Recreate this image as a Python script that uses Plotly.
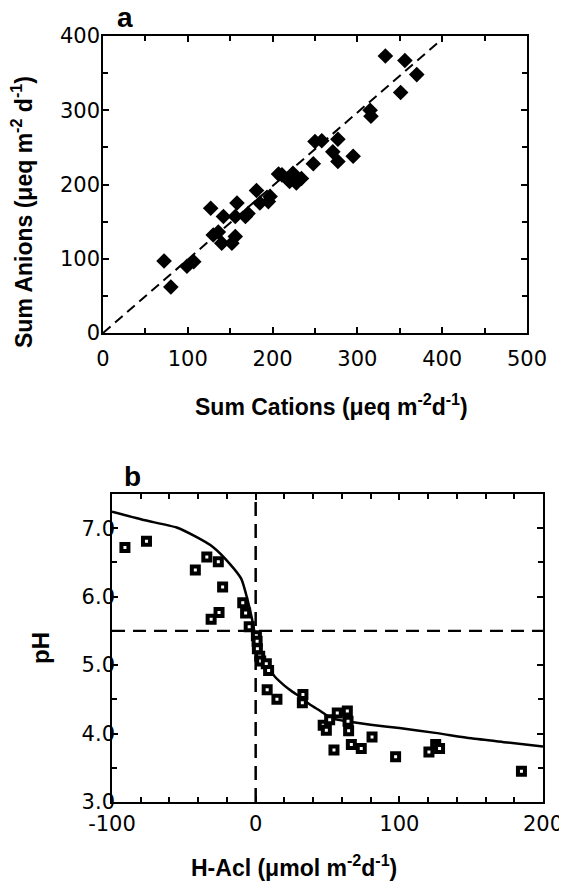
import plotly.graph_objects as go

# ---------------- Panel a data ----------------
sum_cations = [72, 80, 99, 107, 127, 130, 136, 142, 140, 152, 156, 156, 158, 168, 171,
               181, 185, 195, 197, 207, 211, 220, 224, 228, 234, 248, 250, 258, 271,
               277, 277, 295, 315, 316, 333, 351, 356, 370]
sum_anions = [97, 62, 90, 96, 168, 132, 136, 157, 121, 121, 130, 157, 175, 157, 161,
              192, 175, 177, 184, 214, 213, 204, 215, 202, 208, 228, 258, 259, 244,
              261, 231, 238, 300, 292, 373, 324, 367, 348]
one_to_one_x = [0, 400]
one_to_one_y = [0, 396]
a_xticks = [0, 100, 200, 300, 400, 500]
a_yticks = [0, 100, 200, 300, 400]

# ---------------- Panel b data ----------------
h_acl = [-91, -76, -42, -34, -26, -31, -25.5, -23, -9, -7, -4.5, 0.5, 1, 1.2, 2.8, 3.5,
         7.4, 9, 8, 14.8, 32.9, 32.5, 47, 49.2, 51.5, 56.8, 63.8, 64.3, 64.7, 54.5,
         66.6, 73.5, 81, 97.4, 120.6, 125.3, 128, 185]
ph_obs = [6.72, 6.81, 6.39, 6.58, 6.51, 5.67, 5.77, 6.14, 5.91, 5.76, 5.56, 5.43, 5.35,
          5.24, 5.13, 5.06, 5.02, 4.92, 4.64, 4.50, 4.57, 4.45, 4.12, 4.05, 4.20, 4.30,
          4.33, 4.18, 4.04, 3.76, 3.84, 3.78, 3.95, 3.66, 3.73, 3.84, 3.78, 3.45]
curve_x = [-100, -78, -55, -42, -30, -18, -10, -5.5, -2.5, -1, 0, 2.5, 7.5, 13, 20, 25,
           32, 38, 45, 52, 63, 80, 100, 125, 150, 175, 200]
curve_ph = [7.24, 7.12, 7.01, 6.88, 6.73, 6.48, 6.26, 5.94, 5.67, 5.50, 5.36, 5.21, 5.01,
            4.84, 4.70, 4.62, 4.52, 4.42, 4.33, 4.23, 4.18, 4.13, 4.08, 4.01, 3.93, 3.87,
            3.81]
zero_flux_x = [0, 0]
zero_flux_y = [3.0, 7.5]
ph_ref_x = [-100, 200]
ph_ref_y = [5.5, 5.5]
b_xticks = [-100, 0, 100, 200]
b_xticktext = ["-100", "0", "100", "200"]
b_yticks = [3, 4, 5, 6, 7]
b_yticktext = ["3.0", "4.0", "5.0", "6.0", "7.0"]

# The page body adds an 8px margin, so the figure is drawn 8px lower/right.
OFF = 8
W, H = 567 - OFF, 885 - OFF


def px(x):
    return (x - OFF) / W


def py(y):
    return 1 - (y - OFF) / H


fig = go.Figure()

fig.add_trace(go.Scatter(x=one_to_one_x, y=one_to_one_y, mode="lines",
                         line=dict(color="black", width=2, dash="10px,6px"),
                         xaxis="x", yaxis="y", showlegend=False))
fig.add_trace(go.Scatter(x=sum_cations, y=sum_anions, mode="markers",
                         marker=dict(symbol="diamond", size=12, color="black",
                                     line=dict(width=0)),
                         xaxis="x", yaxis="y", showlegend=False))
# invisible copy so the label-only axis of panel a is drawn
fig.add_trace(go.Scatter(x=sum_cations, y=sum_anions, mode="markers",
                         marker=dict(opacity=0), hoverinfo="skip",
                         xaxis="x", yaxis="y3", showlegend=False))

fig.add_trace(go.Scatter(x=zero_flux_x, y=zero_flux_y, mode="lines",
                         line=dict(color="black", width=2.5, dash="14px,8px"),
                         xaxis="x2", yaxis="y2", showlegend=False))
fig.add_trace(go.Scatter(x=ph_ref_x, y=ph_ref_y, mode="lines",
                         line=dict(color="black", width=2.2, dash="13px,8px"),
                         xaxis="x2", yaxis="y2", showlegend=False))
fig.add_trace(go.Scatter(x=curve_x, y=curve_ph, mode="lines",
                         line=dict(color="black", width=2.5, shape="spline", smoothing=0.6),
                         xaxis="x2", yaxis="y2", showlegend=False))
fig.add_trace(go.Scatter(x=h_acl, y=ph_obs, mode="markers",
                         marker=dict(symbol="square", size=7, color="white",
                                     line=dict(width=4, color="black")),
                         xaxis="x2", yaxis="y2", showlegend=False))
# invisible copy so the label-only axis of panel b is drawn
fig.add_trace(go.Scatter(x=h_acl, y=ph_obs, mode="markers",
                         marker=dict(opacity=0), hoverinfo="skip",
                         xaxis="x2", yaxis="y4", showlegend=False))

tickfont = dict(family="DejaVu Sans", size=21, color="black")
common = dict(showgrid=False, zeroline=False, showline=True, linecolor="black",
              linewidth=2, mirror="ticks", ticks="inside", ticklen=6, tickwidth=1.5,
              tickcolor="black", tickfont=tickfont, automargin=False)
minor_common = dict(ticks="inside", ticklen=5, tickcolor="black", tickwidth=1.5)
label_only = dict(showgrid=False, zeroline=False, showline=False, ticks="",
                  tickfont=tickfont, automargin=False, anchor="free", side="left")

fig.update_layout(
    width=W, height=H,
    margin=dict(l=0, r=0, t=0, b=0, autoexpand=False),
    paper_bgcolor="white", plot_bgcolor="white",
    xaxis=dict(domain=[px(103), px(527)], anchor="y", range=[0, 500],
               tickvals=a_xticks, minor=dict(dtick=50, **minor_common),
               ticklabelstandoff=6, **common),
    yaxis=dict(domain=[py(333), py(36)], anchor="x", range=[0, 400],
               tickvals=a_yticks, minor=dict(dtick=50, **minor_common),
               showticklabels=False, **common),
    yaxis3=dict(domain=[py(333), py(36)], overlaying="y", position=px(100),
                range=[0, 400], tickvals=a_yticks, **label_only),
    xaxis2=dict(domain=[px(112), px(543)], anchor="y2", range=[-100, 200],
                tickvals=b_xticks, ticktext=b_xticktext,
                minor=dict(dtick=20, **minor_common),
                ticklabelstandoff=2, **common),
    yaxis2=dict(domain=[py(802), py(494)], anchor="x2", range=[3.0, 7.5],
                tickvals=b_yticks, ticktext=b_yticktext,
                minor=dict(dtick=0.5, **minor_common),
                showticklabels=False, **common),
    yaxis4=dict(domain=[py(802), py(494)], overlaying="y2", position=px(115),
                range=[3.0, 7.5], tickvals=b_yticks, ticktext=b_yticktext, **label_only),
)

titlefont = dict(family="Liberation Sans", size=23, color="black")
ann = [
    dict(text="<b>a</b>", x=px(125), y=py(18),
         font=dict(family="Liberation Sans", size=28, color="black")),
    dict(text="<b>b</b>", x=px(132), y=py(476),
         font=dict(family="Liberation Sans", size=28, color="black")),
    dict(text="<b>Sum Cations (μeq m<sup>-2</sup>d<sup>-1</sup>)</b>", x=px(331), y=py(405),
         font=titlefont),
    dict(text="<b>Sum Anions (μeq m<sup>-2</sup> d<sup>-1</sup>)</b>", x=px(22), y=py(212),
         font=titlefont, textangle=-90),
    dict(text="<b>H-Acl (μmol m<sup>-2</sup>d<sup>-1</sup>)</b>", x=px(294), y=py(866),
         font=titlefont),
    dict(text="<b>pH</b>", x=px(40), y=py(648),
         font=dict(family="Liberation Sans", size=24, color="black"), textangle=-90),
]
for a in ann:
    fig.add_annotation(xref="paper", yref="paper", showarrow=False,
                       xanchor="center", yanchor="middle", **a)

fig.write_html("out.html")
